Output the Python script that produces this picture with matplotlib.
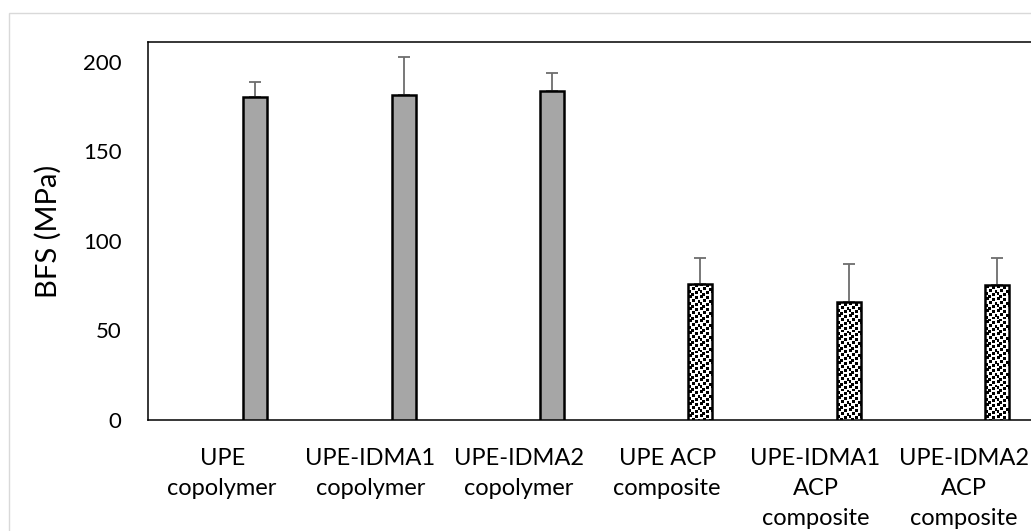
import matplotlib
matplotlib.use("Agg")
import matplotlib.pyplot as plt
from matplotlib.patches import Rectangle
import numpy as np

# ---- data ----
categories = ["UPE\ncopolymer", "UPE-IDMA1\ncopolymer", "UPE-IDMA2\ncopolymer",
              "UPE ACP\ncomposite", "UPE-IDMA1\nACP\ncomposite", "UPE-IDMA2\nACP\ncomposite"]
bfs_values = [180.1, 181.6, 183.4, 75.9, 65.7, 75.3]
bfs_errors = [8.7, 21.1, 10.0, 14.6, 21.3, 15.1]
groups = ["copolymer", "copolymer", "copolymer", "composite", "composite", "composite"]
y_ticks = [0, 50, 100, 150, 200]
y_label = "BFS (MPa)"

plt.rcParams['font.family'] = ['Lato', 'DejaVu Sans']

W, H = 1031, 531
fig = plt.figure(figsize=(W / 100, H / 100), dpi=100)

# chart-area border (light gray)
fig.patches.append(Rectangle((8.5 / W, -0.1), 1.2, 1 - 12.5 / H + 0.1, transform=fig.transFigure,
                             fill=False, edgecolor='#d9d9d9', linewidth=1.0))

left, right, top, bottom = 148, 1038, 42, 420
ax = fig.add_axes([left / W, 1 - bottom / H, (right - left) / W, (bottom - top) / H])

ymax = 210.9
ncat = len(categories)
px_per_x = (right - left) / ncat
px_per_y = (bottom - top) / ymax

# confetti texture tile (decorative fill pattern)
tile = np.zeros((12, 12))
for r, c in [(0, 1), (1, 7), (4, 4), (5, 10), (7, 0), (8, 7), (10, 3)]:
    for dr in range(3):
        for dc in range(3):
            tile[(r + dr) % 12, (c + dc) % 12] = 1

x = np.arange(ncat)
offset = 0.223
width = 0.162
for xi, v, e, g in zip(x, bfs_values, bfs_errors, groups):
    xc = xi + offset
    if g == "copolymer":
        ax.bar(xc, v, width=width, color='#a6a6a6', edgecolor='black',
               linewidth=1.8, zorder=3)
    else:
        bars = ax.bar(xc, v, width=width, color='white', edgecolor='none', zorder=3)
        nx = int(round(width * px_per_x)) + 2
        ny = int(round(v * px_per_y)) + 2
        img = np.tile(tile, (ny // 12 + 1, nx // 12 + 1))[:ny, :nx]
        im = ax.imshow(img, cmap='Greys', vmin=0, vmax=1, interpolation='nearest',
                       extent=(xc - width / 2, xc + width / 2, 0, v), origin='upper',
                       aspect='auto', zorder=3.1)
        im.set_clip_path(bars[0])
        ax.bar(xc, v, width=width, fill=False, edgecolor='black', linewidth=1.8, zorder=3.2)
    ax.errorbar(xc, v, yerr=[[0], [e]], fmt='none', ecolor='#6d6d6d',
                elinewidth=1.3, capsize=4.4, capthick=1.3, zorder=2)

ax.set_xlim(-0.5, ncat - 0.5)
ax.set_ylim(0, ymax)
ax.set_yticks(y_ticks)
ax.set_xticks(x)
ax.set_xticklabels(categories, linespacing=1.54)
ax.tick_params(axis='both', length=0)
ax.tick_params(axis='y', pad=19, labelsize=16)
ax.tick_params(axis='x', pad=20, labelsize=17)
ax.set_ylabel(y_label, fontsize=21, labelpad=15)
for s in ['left', 'top', 'bottom', 'right']:
    ax.spines[s].set_linewidth(1.1)
    ax.spines[s].set_color('black')

fig.savefig("out.png", dpi=100)
